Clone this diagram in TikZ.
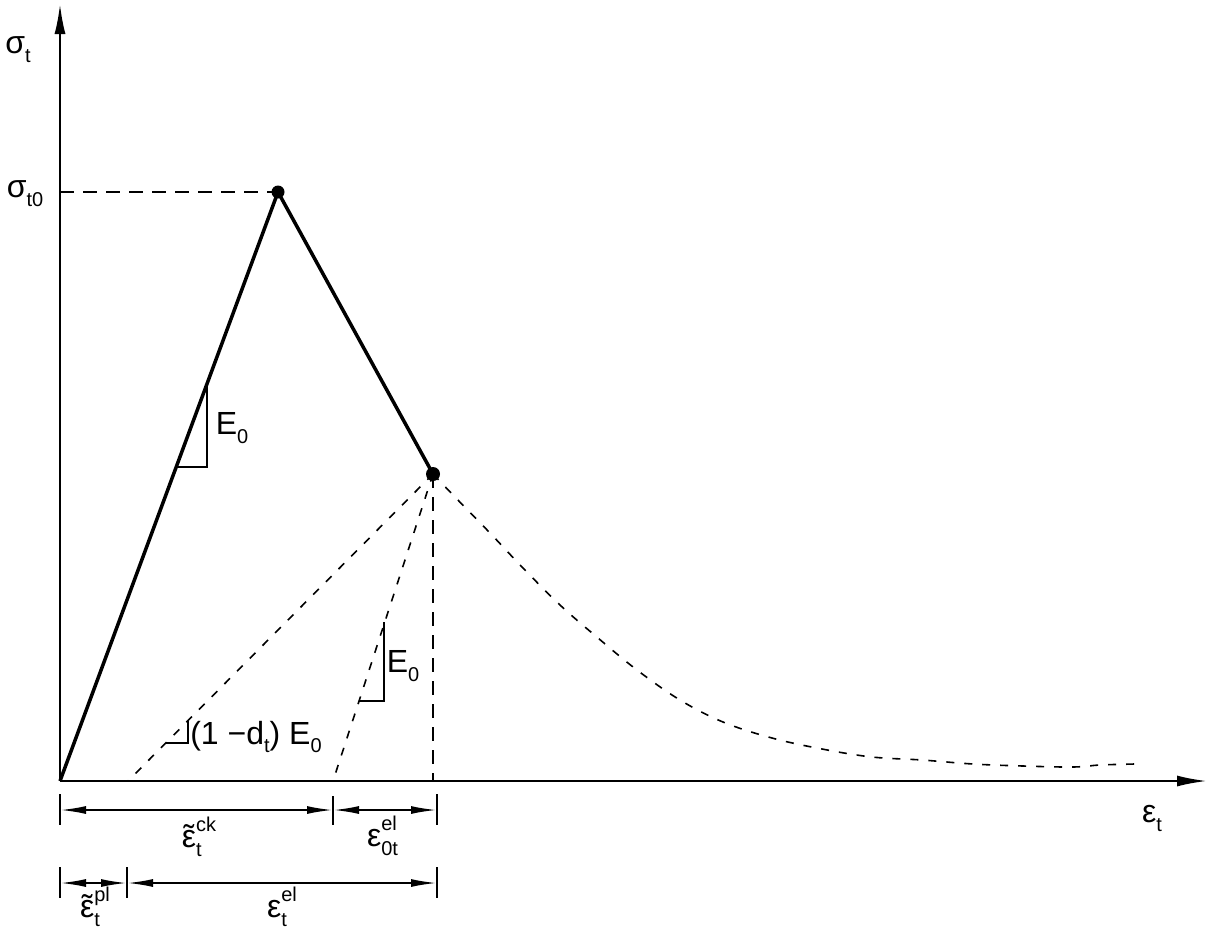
\documentclass[tikz,border=0pt]{standalone}
\usepackage{fontspec}
\setmainfont{Liberation Sans}
\usetikzlibrary{arrows.meta}
\newcommand\smallf{\fontsize{20}{20}\selectfont}
\newcommand\supsub[2]{\raisebox{-0.28em}{\rlap{\smallf #2}}\raisebox{0.5em}{\smallf #1}}
\newcommand\subonly[1]{\raisebox{-0.28em}{\smallf #1}}
\newcommand\teps{\accent"02DC ε}
\begin{document}
\begin{tikzpicture}[x=1pt,y=-1pt,font=\fontsize{32}{36}\selectfont,
  axis/.style={line width=2.2pt,-{Latex[length=30pt,width=11pt]}},
  maincurve/.style={line width=3.5pt,line join=round},
  dashline/.style={line width=2pt,dash pattern=on 14pt off 9pt},
  thindash/.style={line width=1.6pt,dash pattern=on 8pt off 10pt},
  dimline/.style={line width=2pt,{Latex[length=26pt,width=8pt]}-{Latex[length=26pt,width=8pt]}},
  tickline/.style={line width=2pt},
  slopetri/.style={line width=2pt},
  lbl/.style={inner sep=0pt}]
\useasboundingbox (0,0) rectangle (1210,932);
% key points
\coordinate (O) at (60,781);
\coordinate (ytop) at (60,4);
\coordinate (xend) at (1207,781);
\coordinate (P) at (278,192);
\coordinate (Q) at (433,474);
\coordinate (A) at (128,781);
\coordinate (B) at (333,781);
\coordinate (C) at (433,781);
\coordinate (S) at (60,192);
% axes
\draw[axis] (O) -- (ytop);
\draw[axis] (O) -- (xend);
% main curve
\draw[maincurve] (O) -- (P) -- (Q);
\fill (P) circle (6.5);
\fill (Q) circle (7);
% dashed
\draw[dashline] (S) -- (P);
\draw[dashline] (Q) -- (C);
\draw[thindash] (Q) -- (A);
\draw[thindash] (Q) -- (B);
\draw[thindash] plot[smooth,tension=0.6] coordinates {(Q) (455,497) (490,533) (523,568) (560,605) (598,638) (637,670) (680,700) (723,722) (772,738) (822,749) (872,757) (922,760) (973,764) (1023,766) (1073,767) (1100,765) (1135,764)};
% slope triangles
\coordinate (t1a) at (176,467);
\coordinate (t1b) at (207,467);
\coordinate (t1c) at (207,384);
\draw[slopetri] (t1a) -- (t1b) -- (t1c);
\coordinate (t2a) at (359,701);
\coordinate (t2b) at (384,701);
\coordinate (t2c) at (384,622);
\draw[slopetri] (t2a) -- (t2b) -- (t2c);
\coordinate (t3a) at (166,743);
\coordinate (t3b) at (188,743);
\coordinate (t3c) at (188,721);
\draw[slopetri] (t3a) -- (t3b) -- (t3c);
% dimension row 1
\coordinate (d1a) at (60,810);
\coordinate (d1b) at (333,810);
\coordinate (d1c) at (437,810);
\draw[tickline] (60,794) -- (60,825);
\draw[tickline] (333,796) -- (333,825);
\draw[tickline] (437,794) -- (437,825);
\draw[dimline] (d1a) -- (d1b);
\draw[dimline] (d1b) -- (d1c);
% dimension row 2
\coordinate (d2a) at (60,883);
\coordinate (d2b) at (127,883);
\coordinate (d2c) at (437,883);
\draw[tickline] (60,867) -- (60,898);
\draw[tickline] (127,867) -- (127,898);
\draw[tickline] (437,867) -- (437,898);
\draw[dimline] (d2a) -- (d2b);
\draw[dimline] (d2b) -- (d2c);
% labels
\node[lbl] (sigt) at (18,50) {σ\subonly{t}};
\node[lbl] (sigt0) at (25,194) {σ\subonly{t0}};
\node[lbl] (E1) at (232,428) {E\subonly{0}};
\node[lbl] (E2) at (403,666) {E\subonly{0}};
\node[lbl] (dmg) at (256,737) {(1 −d\subonly{t}) E\subonly{0}};
\node[lbl] (epst) at (1152,818) {ε\subonly{t}};
\node[lbl] (eck) at (199,837) {\teps\supsub{ck}{t}};
\node[lbl] (e0el) at (382,836) {ε\supsub{el}{0t}};
\node[lbl] (epl) at (95,907) {\teps\supsub{pl}{t}};
\node[lbl] (eel) at (282,907) {ε\supsub{el}{t}};
\end{tikzpicture}
\end{document}
